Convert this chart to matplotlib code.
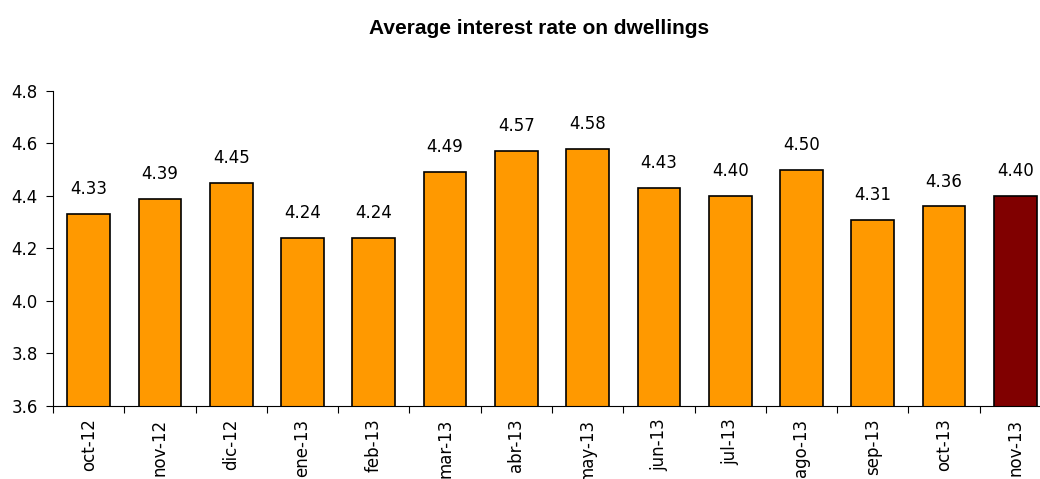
import matplotlib
matplotlib.use("Agg")
import matplotlib.pyplot as plt
import numpy as np

plt.rcParams['font.family'] = ['DejaVu Sans']

categories = ["oct-12", "nov-12", "dic-12", "ene-13", "feb-13", "mar-13", "abr-13",
              "may-13", "jun-13", "jul-13", "ago-13", "sep-13", "oct-13", "nov-13"]
values = [4.33, 4.39, 4.45, 4.24, 4.24, 4.49, 4.57, 4.58, 4.43, 4.40, 4.50, 4.31, 4.36, 4.40]
value_labels = ["4.33", "4.39", "4.45", "4.24", "4.24", "4.49", "4.57", "4.58", "4.43",
                "4.40", "4.50", "4.31", "4.36", "4.40"]
yticks = [3.6, 3.8, 4.0, 4.2, 4.4, 4.6, 4.8]

W, H = 1040, 479
fig = plt.figure(figsize=(W / 100, H / 100), dpi=100)
left, right, bottom, top = 53, 1051, 406, 91
ax = fig.add_axes([left / W, 1 - bottom / H, (right - left) / W, (bottom - top) / H])

x = np.arange(len(categories))
colors = ["#FF9900"] * (len(categories) - 1) + ["#800000"]
ax.bar(x, values, width=0.6, color=colors, edgecolor="black", linewidth=1.2, zorder=2)

for xi, v, lab in zip(x, values, value_labels):
    ax.annotate(lab, (xi, v), xytext=(0, 11.5), textcoords="offset points",
                ha="center", va="bottom", fontsize=12)

ax.set_xlim(-0.5, len(categories) - 0.5)
ax.set_ylim(3.6, 4.8)
ax.set_yticks(yticks)
ax.set_yticklabels([f"{t:.1f}" for t in yticks], fontsize=12)

ax.set_xticks(np.arange(len(categories) + 1) - 0.5)
ax.set_xticklabels([])
ax.set_xticks(x, minor=True)
ax.set_xticklabels(categories, minor=True, rotation=90, fontsize=12)
ax.tick_params(axis="x", which="minor", length=0, pad=9)
ax.tick_params(axis="x", which="major", length=5, direction="out")
ax.tick_params(axis="y", length=5, direction="out", pad=6)

for s in ["top", "right"]:
    ax.spines[s].set_visible(False)

fig.text(539 / W, 1 - 28 / H, "Average interest rate on dwellings", ha="center", va="center",
         fontsize=15, fontweight="bold", family="Liberation Sans")

fig.savefig("out.png", dpi=100)
